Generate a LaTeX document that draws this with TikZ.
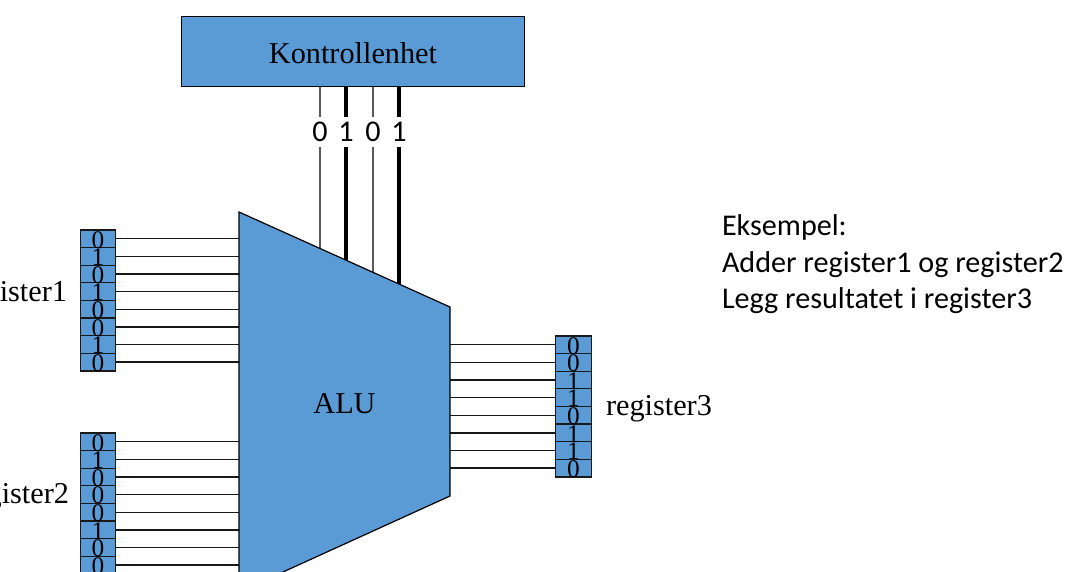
\documentclass[tikz,border=0pt]{standalone}
\usepackage{fontspec}
\setmainfont{Liberation Serif}
\newfontfamily\calfont{Carlito}
\definecolor{boxblue}{HTML}{5B9BD5}
\definecolor{wire}{HTML}{181818}
\tikzset{
  x=0.75pt,y=-0.75pt,
  blockbox/.style={draw=black,line width=0.9pt,fill=boxblue},
  cellbox/.style={draw=black!90,line width=0.9pt,fill=boxblue,minimum width=26.6pt,minimum height=13.2pt,inner sep=0pt,outer sep=0pt},
  bitwire/.style={draw=wire,line width=1pt},
  ctrlthin/.style={draw=black!65,line width=0.95pt},
  ctrlthick/.style={draw=black,line width=3pt},
  serif/.style={font=\fontsize{22.7pt}{26pt}\selectfont,inner sep=0pt,outer sep=0pt},
  cal/.style={font=\calfont\fontsize{22.6pt}{27pt}\selectfont,inner sep=0pt,outer sep=0pt},
  bitlabel/.style={font=\calfont\fontsize{22.6pt}{27pt}\selectfont,fill=white,inner sep=0pt,outer sep=0pt,minimum width=20pt,minimum height=22.5pt},
  digit/.style={font=\fontsize{19pt}{19pt}\selectfont,inner sep=0pt}
}
% name, x-centre, y-top, digits
\newcommand{\regcol}[4]{%
  \foreach \b [count=\i from 0] in {#4} {
    \node[cellbox] (#1c\i) at (#2,{#3+8.8+17.62*\i}) {};
  }
  \foreach \b [count=\i from 0] in {#4} {
    \node[digit,anchor=base] (#1d\i) at (#2,{#3+8.8+17.62*\i+9.2}) {\b};
  }
}
\begin{document}
\begin{tikzpicture}
\useasboundingbox (0,0) rectangle (1066,571);
\clip (0,0) rectangle (1066,571);
% ALU
\coordinate (aluTL) at (239,212);
\coordinate (aluTR) at (450,307);
\coordinate (aluBR) at (450,496);
\coordinate (aluBL) at (239,592);
% control unit
\node[blockbox,minimum width=257.5pt,minimum height=53pt,inner sep=0pt,outer sep=0pt] (ctrl) at (353,51.5) {};
\node[serif,anchor=base] (ctrltext) at (353,63.5) {Kontrollenhet};
% control lines
\coordinate (e0) at (320,248.5);
\coordinate (e1) at (346,260.2);
\coordinate (e2) at (373,272.3);
\coordinate (e3) at (399,284);
\draw[ctrlthin]  (e0 |- ctrl.south) -- (e0);
\draw[ctrlthick] (e1 |- ctrl.south) -- (e1);
\draw[ctrlthin]  (e2 |- ctrl.south) -- (e2);
\draw[ctrlthick] (e3 |- ctrl.south) -- (e3);
\node[bitlabel] (b0) at (320,131.5) {0};
\node[bitlabel] (b1) at (346,131.5) {1};
\node[bitlabel] (b2) at (373,131.5) {0};
\node[bitlabel] (b3) at (399,131.5) {1};
% registers
\regcol{ra}{98}{230}{0,1,0,1,0,0,1,0}
\regcol{rb}{98}{433}{0,1,0,0,0,1,0,0}
\regcol{rc}{573.5}{336}{0,0,1,1,0,1,1,0}
\foreach \i in {0,...,7} {
  \draw[bitwire] (rac\i.east) -- (rac\i.east -| aluTL);
  \draw[bitwire] (rbc\i.east) -- (rbc\i.east -| aluTL);
  \draw[bitwire] (rcc\i.west) -- (rcc\i.west -| aluTR);
}
\draw[blockbox,line join=miter] (aluTL) -- (aluTR) -- (aluBR) -- (aluBL) -- cycle;
\node[serif,anchor=base] (alu) at (344.5,413) {ALU};
% labels
\node[serif,anchor=base east] (la) at (67,301) {register1};
\node[serif,anchor=base east] (lb) at (69,503.5) {register2};
\node[serif,anchor=base west] (lc) at (606,415.5) {register3};
\node[cal,anchor=base west] (t1) at (722,235.8) {Eksempel:};
\node[cal,anchor=base west] (t2) at (722,272.3) {Adder register1 og register2};
\node[cal,anchor=base west] (t3) at (722,308.8) {Legg resultatet i register3};
\end{tikzpicture}
\end{document}
